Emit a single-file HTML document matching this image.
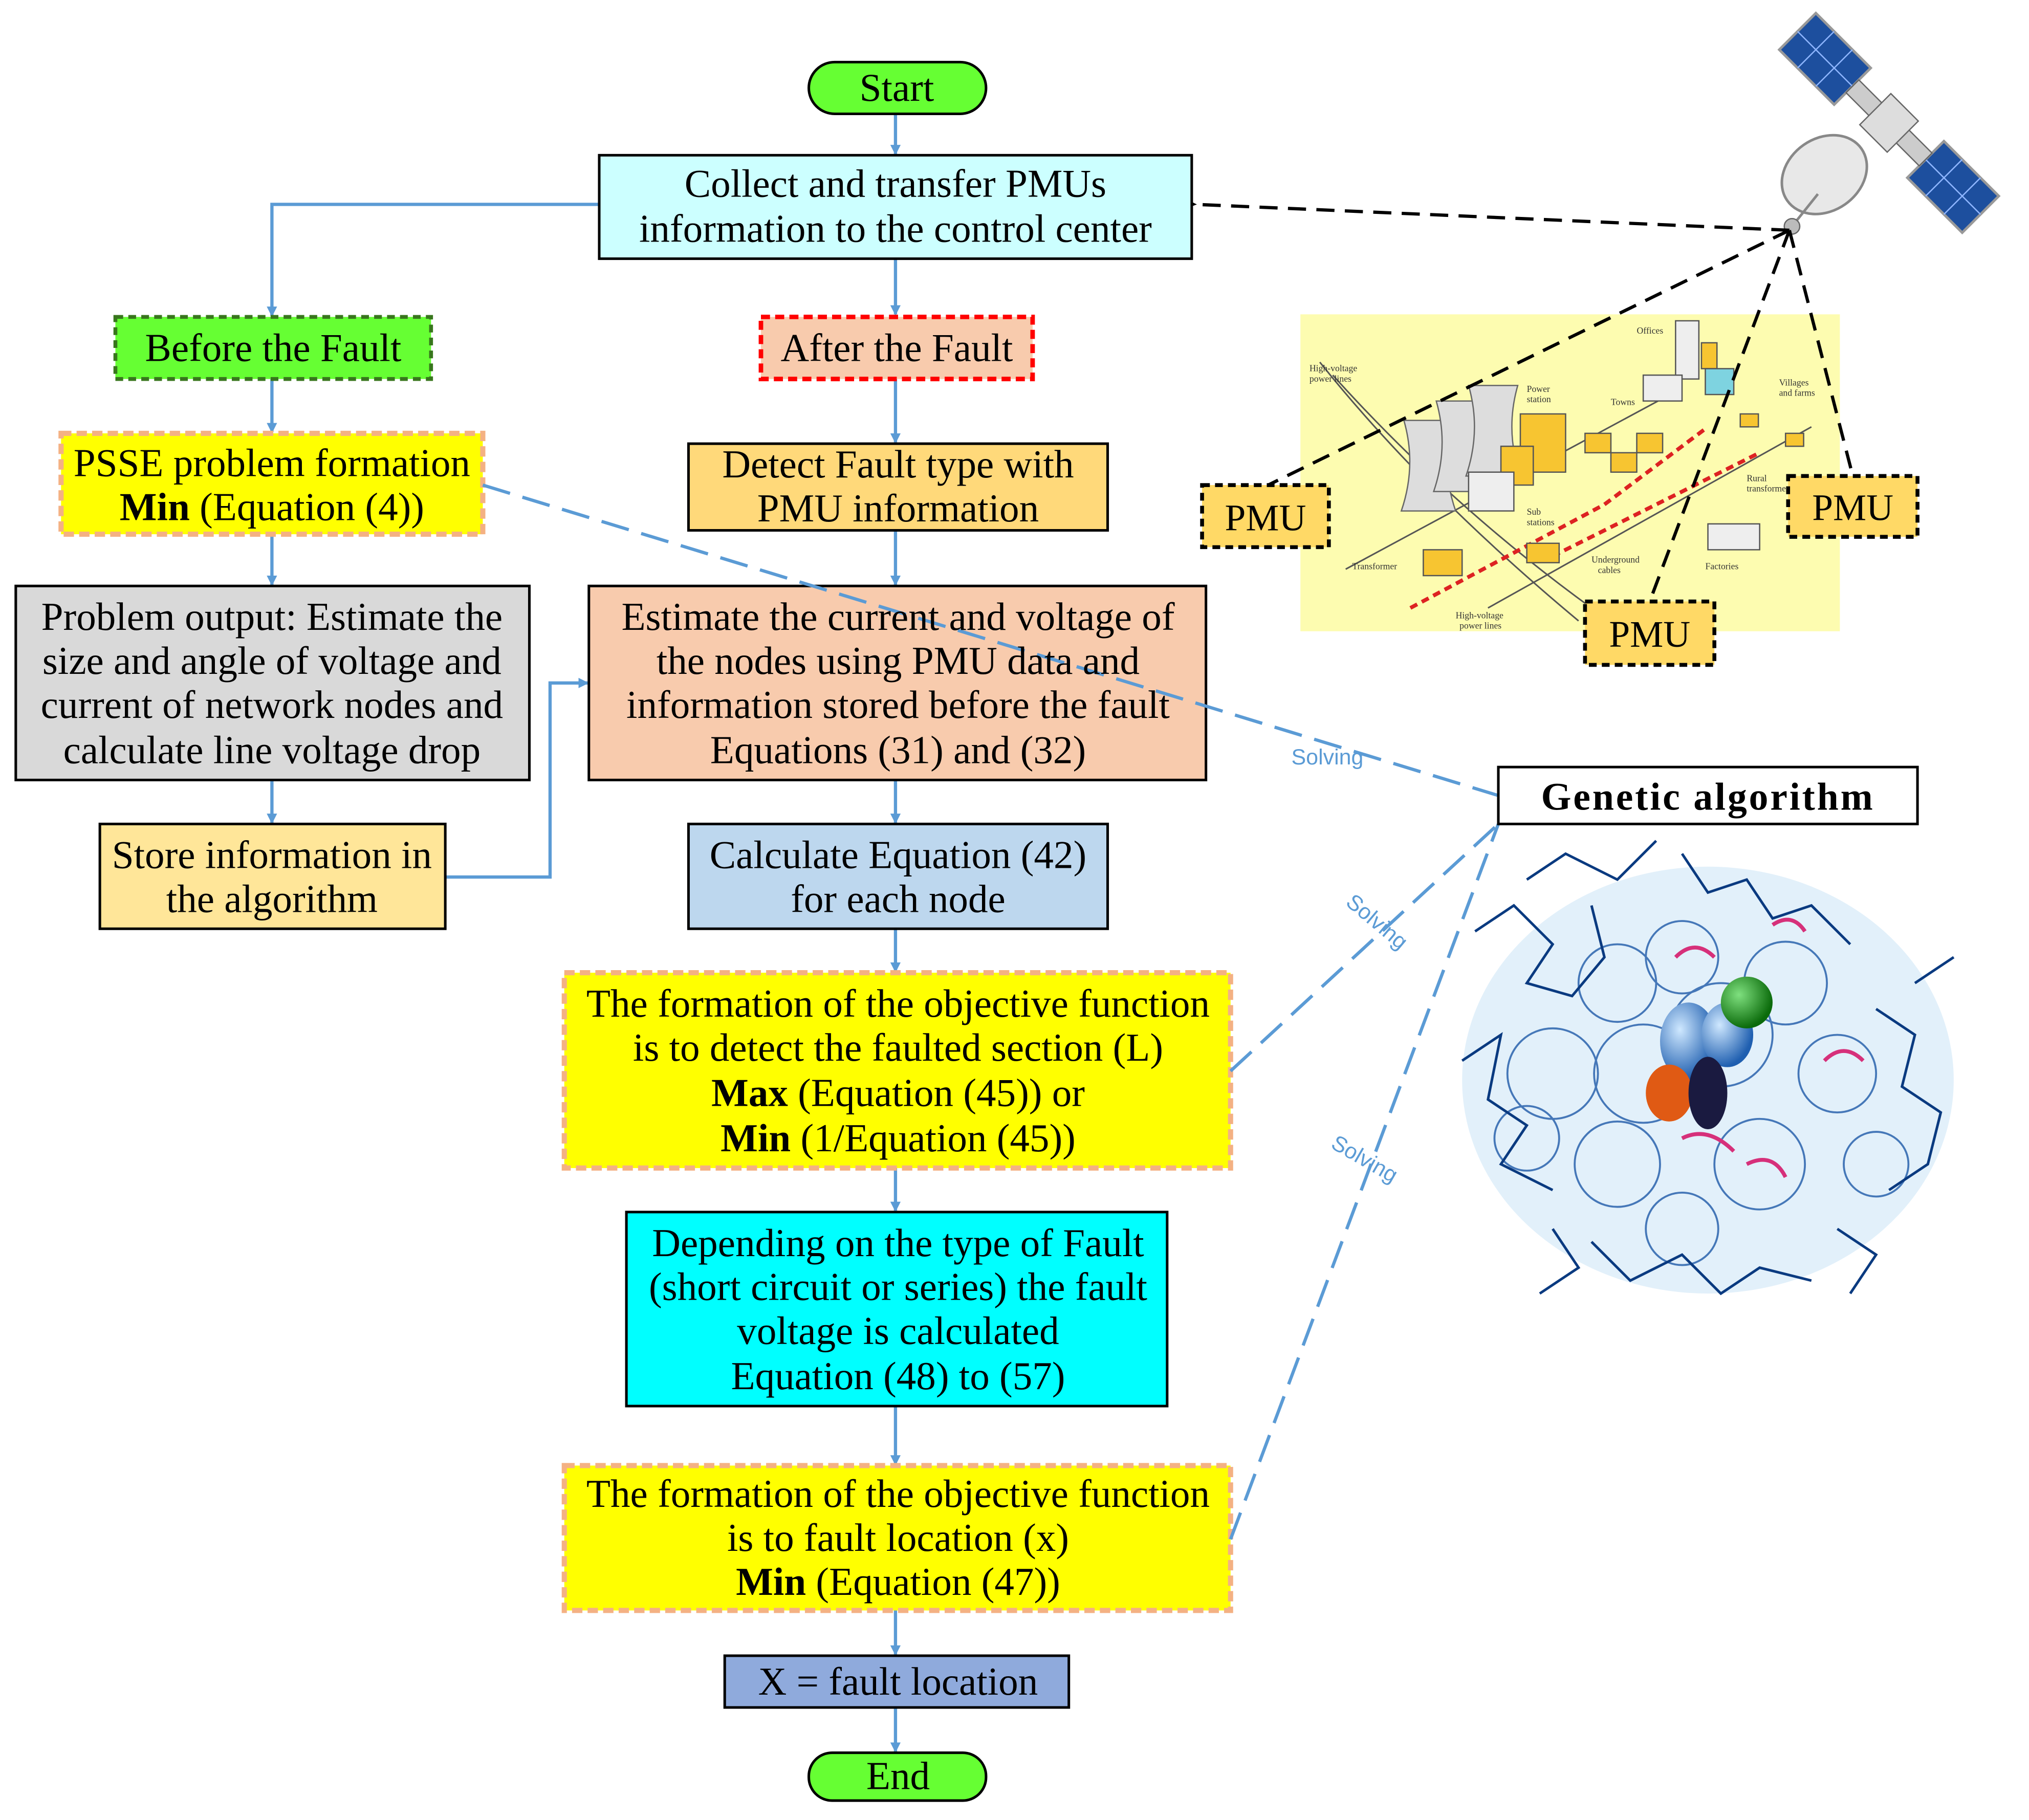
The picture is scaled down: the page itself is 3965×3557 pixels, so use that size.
<!DOCTYPE html>
<html><head><meta charset="utf-8"><style>
html,body{margin:0;padding:0;background:#fff;}
svg{display:block;}
text{font-family:"Liberation Serif",serif;}
</style></head><body>
<svg width="3965" height="3557" viewBox="0 0 1568 1407" xmlns="http://www.w3.org/2000/svg">
<defs>
<marker id="ab" markerWidth="8" markerHeight="8" refX="7" refY="4" orient="auto" markerUnits="userSpaceOnUse"><path d="M0,0 L8,4 L0,8 z" fill="#5b9bd5"/></marker>
<marker id="ak" markerWidth="14" markerHeight="12" refX="1" refY="6" orient="auto" markerUnits="userSpaceOnUse"><path d="M14,0 L0,6 L14,12 z" fill="#000"/></marker>
<radialGradient id="sph" cx="35%" cy="35%" r="65%"><stop offset="0" stop-color="#cfe8ff"/><stop offset="1" stop-color="#1f5fb0"/></radialGradient>
<radialGradient id="sphg" cx="35%" cy="35%" r="65%"><stop offset="0" stop-color="#7fe07f"/><stop offset="1" stop-color="#0b6b0b"/></radialGradient>
</defs>
<rect width="1568" height="1407" fill="#fff"/>

<g stroke="#5b9bd5" stroke-width="2.5" fill="none" marker-end="url(#ab)">
<line x1="692" y1="88" x2="692" y2="119"/>
<polyline points="463,158 210,158 210,244"/>
<line x1="692" y1="200" x2="692" y2="243"/>
<line x1="210" y1="293" x2="210" y2="334"/>
<line x1="692" y1="293" x2="692" y2="342"/>
<line x1="210" y1="413" x2="210" y2="452"/>
<line x1="692" y1="410" x2="692" y2="452"/>
<line x1="210" y1="603" x2="210" y2="636"/>
<polyline points="344,678 425,678 425,528 454,528"/>
<line x1="692" y1="603" x2="692" y2="636"/>
<line x1="692" y1="718" x2="692" y2="751"/>
<line x1="692" y1="903" x2="692" y2="936"/>
<line x1="692" y1="1087" x2="692" y2="1132"/>
<line x1="692" y1="1245" x2="692" y2="1279"/>
<line x1="692" y1="1320" x2="692" y2="1354"/>
</g>

<rect x="1005" y="243" width="417" height="245" fill="#fdfcb0"/>
<g stroke="#555" stroke-width="1.2" fill="none">
<path d="M1020,280 Q1100,380 1220,480"/><path d="M1030,290 Q1120,390 1230,470"/>
<path d="M1040,440 L1300,300"/><path d="M1150,470 L1400,330"/>
</g>
<g stroke="#d22" stroke-width="3" stroke-dasharray="6,4" fill="none">
<path d="M1090,470 L1240,390 L1320,330"/><path d="M1200,430 L1360,350"/>
</g>
<g fill="#ddd" stroke="#666">
<path d="M1085,325 Q1095,360 1083,395 L1125,395 Q1113,360 1122,325 z"/>
<path d="M1110,310 Q1120,345 1108,380 L1150,380 Q1138,345 1148,310 z"/>
<path d="M1135,298 Q1145,333 1133,368 L1175,368 Q1163,333 1173,298 z"/>
</g>
<g fill="#f7c531" stroke="#555">
<rect x="1175" y="320" width="35" height="45"/><rect x="1160" y="345" width="25" height="30"/>
<rect x="1225" y="335" width="20" height="15"/><rect x="1245" y="350" width="20" height="15"/><rect x="1265" y="335" width="20" height="15"/>
<rect x="1315" y="265" width="12" height="20"/><rect x="1345" y="320" width="14" height="10"/><rect x="1380" y="335" width="14" height="10"/>
<rect x="1180" y="420" width="25" height="15"/><rect x="1100" y="425" width="30" height="20"/>
</g>
<g fill="#eee" stroke="#555"><rect x="1295" y="248" width="18" height="45"/><rect x="1270" y="290" width="30" height="20"/><rect x="1320" y="405" width="40" height="20"/><rect x="1135" y="365" width="35" height="30"/></g>
<g fill="#7ed3e0" stroke="#555"><rect x="1318" y="285" width="22" height="20"/></g>
<g font-size="7" fill="#333">
<text x="1012" y="287">High-voltage</text><text x="1012" y="295">power lines</text>
<text x="1180" y="303">Power</text><text x="1180" y="311">station</text>
<text x="1265" y="258">Offices</text><text x="1245" y="313">Towns</text>
<text x="1375" y="298">Villages</text><text x="1375" y="306">and farms</text>
<text x="1350" y="372">Rural</text><text x="1350" y="380">transformer</text>
<text x="1180" y="398">Sub</text><text x="1180" y="406">stations</text>
<text x="1045" y="440">Transformer</text>
<text x="1230" y="435">Underground</text><text x="1235" y="443">cables</text>
<text x="1318" y="440">Factories</text>
<text x="1125" y="478">High-voltage</text><text x="1128" y="486">power lines</text>
</g>

<g transform="rotate(45 1460 95)">
<rect x="1360" y="75" width="60" height="40" fill="#1d4f9e" stroke="#999" stroke-width="2"/>
<rect x="1500" y="75" width="60" height="40" fill="#1d4f9e" stroke="#999" stroke-width="2"/>
<g stroke="#8fb6ff" stroke-width="1"><line x1="1380" y1="75" x2="1380" y2="115"/><line x1="1400" y1="75" x2="1400" y2="115"/><line x1="1360" y1="95" x2="1420" y2="95"/><line x1="1520" y1="75" x2="1520" y2="115"/><line x1="1540" y1="75" x2="1540" y2="115"/><line x1="1500" y1="95" x2="1560" y2="95"/></g>
<rect x="1420" y="88" width="80" height="14" fill="#ccc" stroke="#666"/>
<rect x="1445" y="78" width="30" height="34" fill="#ddd" stroke="#666"/>
</g>
<ellipse cx="1410" cy="135" rx="35" ry="28" fill="#e8e8e8" stroke="#888" stroke-width="2" transform="rotate(-35 1410 135)"/>
<line x1="1385" y1="175" x2="1405" y2="150" stroke="#888" stroke-width="2"/>
<circle cx="1385" cy="175" r="6" fill="#bbb" stroke="#666"/>

<g stroke="#000" stroke-width="2.5" fill="none" stroke-dasharray="14,8">
<line x1="1383" y1="178" x2="924" y2="158" marker-end="url(#ak)"/>
<line x1="1383" y1="178" x2="980" y2="375"/>
<line x1="1383" y1="178" x2="1275" y2="465"/>
<line x1="1383" y1="178" x2="1432" y2="368"/>
</g>
<g fill="#ffd966" stroke="#000" stroke-width="3" stroke-dasharray="6,4">
<rect x="929" y="375" width="98" height="48"/><rect x="1382" y="368" width="100" height="47"/><rect x="1225" y="465" width="100" height="49"/>
</g>
<g font-size="29" text-anchor="middle"><text x="978" y="410">PMU</text><text x="1432" y="402">PMU</text><text x="1275" y="500">PMU</text></g>

<g>
<ellipse cx="1320" cy="835" rx="190" ry="165" fill="#cfe6f7" opacity="0.6"/>
<g fill="none" stroke="#1e5aa8" stroke-width="1.5" opacity="0.8">
<circle cx="1250" cy="760" r="30"/><circle cx="1300" cy="740" r="28"/><circle cx="1380" cy="760" r="32"/><circle cx="1200" cy="830" r="35"/><circle cx="1420" cy="830" r="30"/><circle cx="1250" cy="900" r="33"/><circle cx="1360" cy="900" r="35"/><circle cx="1300" cy="950" r="28"/><circle cx="1180" cy="880" r="25"/><circle cx="1450" cy="900" r="25"/><circle cx="1330" cy="800" r="40"/><circle cx="1270" cy="830" r="38"/>
</g>
<g fill="none" stroke="#0a3a80" stroke-width="2">
<path d="M1140,720 L1170,700 L1200,730 L1180,760 L1215,770 L1240,740 L1230,700"/>
<path d="M1300,660 L1320,690 L1350,680 L1370,710 L1400,700 L1430,730"/>
<path d="M1130,820 L1160,800 L1150,850 L1180,870 L1160,900 L1200,920"/>
<path d="M1450,780 L1480,800 L1470,840 L1500,860 L1490,900 L1460,920"/>
<path d="M1230,960 L1260,990 L1300,970 L1330,1000 L1360,980 L1400,990"/>
<path d="M1200,950 L1220,980 L1190,1000"/><path d="M1420,950 L1450,970 L1430,1000"/>
<path d="M1180,680 L1210,660 L1250,680 L1280,650"/><path d="M1480,760 L1510,740"/>
</g>
<g fill="none" stroke="#d6307a" stroke-width="3">
<path d="M1295,740 Q1310,725 1325,740"/><path d="M1370,715 Q1385,705 1395,720"/><path d="M1410,820 Q1425,805 1440,820"/><path d="M1300,880 Q1320,870 1340,890"/><path d="M1350,900 Q1370,890 1380,910"/>
</g>
<ellipse cx="1305" cy="805" rx="22" ry="30" fill="url(#sph)"/>
<ellipse cx="1290" cy="845" rx="18" ry="22" fill="#e05a14"/>
<ellipse cx="1335" cy="800" rx="20" ry="25" fill="url(#sph)"/>
<circle cx="1350" cy="775" r="20" fill="url(#sphg)"/>
<ellipse cx="1320" cy="845" rx="15" ry="28" fill="#1a1a40"/>
</g>

<rect x="625" y="48" width="137" height="40" rx="20" fill="#66ff33" stroke="#000" stroke-width="2"/>
<rect x="463" y="120" width="458" height="80" fill="#ccffff" stroke="#000" stroke-width="2"/>
<rect x="89" y="245" width="244" height="48" fill="#66ff33" stroke="#38761d" stroke-width="3" stroke-dasharray="6,4"/>
<rect x="588" y="245" width="210" height="48" fill="#f8cbad" stroke="#ff0000" stroke-width="3.5" stroke-dasharray="7,4"/>
<rect x="47" y="335" width="326" height="78" fill="#ffff00" stroke="#f4b183" stroke-width="4" stroke-dasharray="8,4"/>
<rect x="532" y="343" width="324" height="67" fill="#ffd97a" stroke="#000" stroke-width="2"/>
<rect x="12" y="453" width="397" height="150" fill="#d9d9d9" stroke="#000" stroke-width="2"/>
<rect x="455" y="453" width="477" height="150" fill="#f8cbad" stroke="#000" stroke-width="2"/>
<rect x="77" y="637" width="267" height="81" fill="#ffe699" stroke="#000" stroke-width="2"/>
<rect x="532" y="637" width="324" height="81" fill="#bdd7ee" stroke="#000" stroke-width="2"/>
<rect x="436" y="752" width="515" height="151" fill="#ffff00" stroke="#f4b183" stroke-width="4" stroke-dasharray="8,4"/>
<rect x="484" y="937" width="418" height="150" fill="#00ffff" stroke="#000" stroke-width="2"/>
<rect x="436" y="1133" width="515" height="112" fill="#ffff00" stroke="#f4b183" stroke-width="4" stroke-dasharray="8,4"/>
<rect x="560" y="1280" width="266" height="40" fill="#8faadc" stroke="#000" stroke-width="2"/>
<rect x="625" y="1355" width="137" height="37" rx="18" fill="#66ff33" stroke="#000" stroke-width="2"/>

<g stroke="#5b9bd5" stroke-width="2.5" fill="none" stroke-dasharray="22,10">
<line x1="373" y1="375" x2="1158" y2="615"/>
<line x1="951" y1="828" x2="1158" y2="637"/>
<line x1="951" y1="1190" x2="1158" y2="637"/>
</g>
<g font-family="Liberation Sans,sans-serif" font-size="17" fill="#5b9bd5">
<text x="998" y="591" style="font-family:'Liberation Sans',sans-serif">Solving</text>
<text x="1025" y="712" style="font-family:'Liberation Sans',sans-serif" transform="rotate(40 1050 725)">Solving</text>
<text x="1022" y="902" style="font-family:'Liberation Sans',sans-serif" transform="rotate(30 1053 905)">Solving</text>
</g>
<rect x="1158" y="593" width="324" height="44" fill="#fff" stroke="#000" stroke-width="2"/>
<text x="1320" y="626" font-size="30" font-weight="bold" text-anchor="middle" letter-spacing="1.5">Genetic algorithm</text>

<g font-size="30.5" text-anchor="middle" fill="#000">
<text x="693" y="78">Start</text>
<text x="692" y="152">Collect and transfer PMUs</text>
<text x="692" y="187">information to the control center</text>
<text x="211" y="279">Before the Fault</text>
<text x="693" y="279">After the Fault</text>
<text x="210" y="368">PSSE problem formation</text>
<text x="210" y="402"><tspan font-weight="bold">Min</tspan> (Equation (4))</text>
<text x="694" y="369">Detect Fault type with</text>
<text x="694" y="403">PMU information</text>
<text x="210" y="487">Problem output: Estimate the</text>
<text x="210" y="521">size and angle of voltage and</text>
<text x="210" y="555">current of network nodes and</text>
<text x="210" y="590">calculate line voltage drop</text>
<text x="694" y="487">Estimate the current and voltage of</text>
<text x="694" y="521">the nodes using PMU data and</text>
<text x="694" y="555">information stored before the fault</text>
<text x="694" y="590">Equations (31) and (32)</text>
<text x="210" y="671">Store information in</text>
<text x="210" y="705">the algorithm</text>
<text x="694" y="671">Calculate Equation (42)</text>
<text x="694" y="705">for each node</text>
<text x="694" y="786">The formation of the objective function</text>
<text x="694" y="820">is to detect the faulted section (L)</text>
<text x="694" y="855"><tspan font-weight="bold">Max</tspan> (Equation (45)) or</text>
<text x="694" y="890"><tspan font-weight="bold">Min</tspan> (1/Equation (45))</text>
<text x="694" y="971">Depending on the type of Fault</text>
<text x="694" y="1005">(short circuit or series) the fault</text>
<text x="694" y="1039">voltage is calculated</text>
<text x="694" y="1074">Equation (48) to (57)</text>
<text x="694" y="1165">The formation of the objective function</text>
<text x="694" y="1199">is to fault location (x)</text>
<text x="694" y="1233"><tspan font-weight="bold">Min</tspan> (Equation (47))</text>
<text x="694" y="1310">X = fault location</text>
<text x="694" y="1383">End</text>
</g>
</svg>
</body></html>
